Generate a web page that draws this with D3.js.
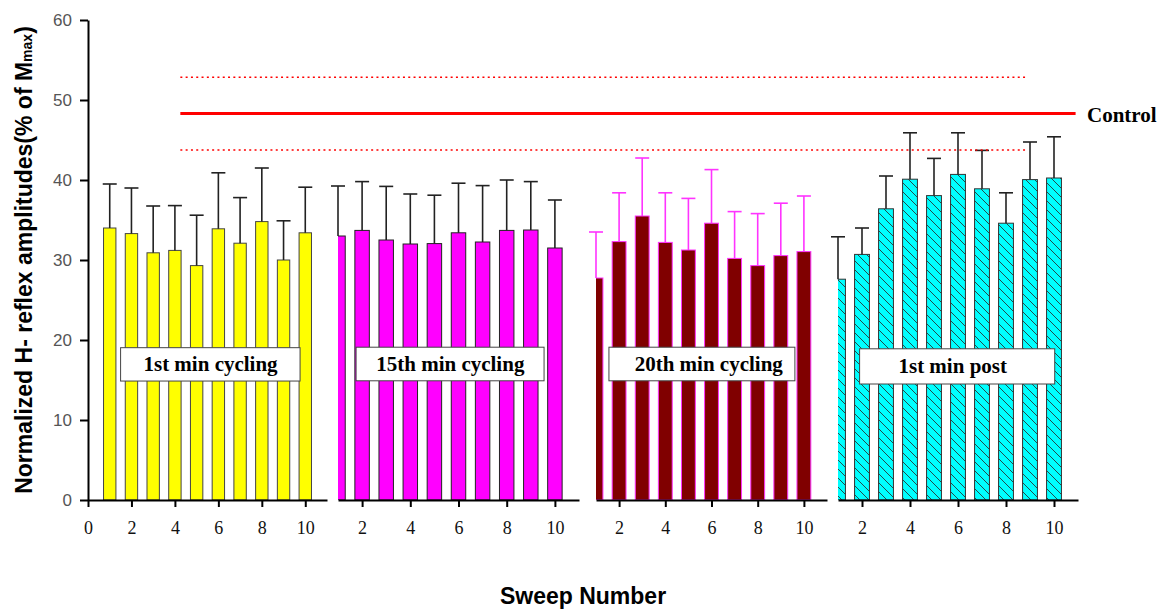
<!DOCTYPE html>
<html>
<meta charset="utf-8">
<style>
body{margin:0;background:#fff;}
.yaxis text{font-family:"Liberation Sans",Arial,sans-serif;font-size:17px;fill:#555;}
.xaxis text{font-family:"Liberation Serif","Times New Roman",serif;font-size:18px;fill:#111;}
.domain,.tick line{stroke:#000;stroke-width:2px;}
.box rect{fill:#fff;stroke:#444;stroke-width:1px;}
.box text{font-family:"Liberation Serif","Times New Roman",serif;font-weight:bold;font-size:21px;fill:#000;}
.title{font-family:"Liberation Sans",Arial,sans-serif;font-weight:bold;font-size:23px;fill:#000;}
</style>
<body>
<script src="https://d3js.org/d3.v7.min.js"></script>
<script>

// sweep numbers and group means / SD (% of Mmax)
var sweeps=[1,2,3,4,5,6,7,8,9,10];
var cyc1Mean=[34.0,33.3,30.9,31.2,29.3,33.9,32.1,34.8,30.0,33.4];
var cyc1Sd=[5.5,5.7,5.85,5.6,6.3,7.0,5.7,6.7,4.9,5.7];
var cyc15Mean=[33.0,33.7,32.5,32.0,32.05,33.4,32.25,33.7,33.75,31.5];
var cyc15Sd=[6.25,6.1,6.7,6.25,6.05,6.2,7.05,6.3,6.05,6.0];
var cyc20Mean=[27.75,32.3,35.5,32.2,31.25,34.6,30.2,29.3,30.55,31.05];
var cyc20Sd=[5.75,6.1,7.25,6.2,6.45,6.7,5.85,6.5,6.55,6.95];
var postMean=[27.6,30.7,36.4,40.1,38.05,40.7,38.9,34.6,40.05,40.25];
var postSd=[5.3,3.3,4.1,5.8,4.65,5.2,4.8,3.8,4.7,5.15];
var groupNames=["1st min cycling","15th min cycling","20th min cycling","1st min post"];
var controlMean=48.3, controlSd=4.55;
var yTicks=[0,10,20,30,40,50,60];

var means=[cyc1Mean,cyc15Mean,cyc20Mean,postMean];
var sds=[cyc1Sd,cyc15Sd,cyc20Sd,postSd];

// panel layout
var panels=[
  {d0:0,d1:11,left:88, right:327, bw:0.57,ticks:[0,2,4,6,8,10],fill:"#ffff00",stroke:"#444",err:"#222",
   box:{x0:1.5,x1:9.76,tx:5.64,top:19.04,bot:14.87}},
  {d0:1,d1:11,left:338,right:579,bw:0.6,ticks:[2,4,6,8,10],fill:"#ff00ff",stroke:"#222",err:"#222",
   box:{x0:1.75,x1:9.55,tx:5.66,top:19.1,bot:14.9}},
  {d0:1,d1:11,left:596,right:827,bw:0.6,ticks:[2,4,6,8,10],fill:"#800000",stroke:"#ff33ff",err:"#ff33ff",
   box:{x0:1.56,x1:9.61,tx:5.88,top:19.1,bot:14.9}},
  {d0:1,d1:11,left:838,right:1078,bw:0.62,ticks:[2,4,6,8,10],fill:"url(#hatch)",stroke:"#333",err:"#222",
   box:{x0:1.9,x1:10.03,tx:5.78,top:18.9,bot:14.5}}
];

var svg=d3.select("body").append("svg").attr("width",1159).attr("height",611);
var defs=svg.append("defs");
var pat=defs.append("pattern").attr("id","hatch").attr("patternUnits","userSpaceOnUse")
  .attr("width",9).attr("height",9);
pat.append("rect").attr("width",9).attr("height",9).attr("fill","#00ffff");
pat.append("path").attr("d","M0,0L9,9M-1,8L1,10M8,-1L10,1")
  .attr("stroke","#224c4c").attr("stroke-width",1);

var y=d3.scaleLinear().domain([0,60]).range([500,20]);

panels.forEach(function(p,i){
  var x=d3.scaleLinear().domain([p.d0,p.d1]).range([p.left,p.right]);
  p.x=x;
  defs.append("clipPath").attr("id","clip"+i).append("rect")
    .attr("x",p.left).attr("y",0).attr("width",p.right-p.left).attr("height",500);
  var rows=sweeps.map(function(s,k){return {s:s,m:means[i][k],sd:sds[i][k]};});
  var g=svg.append("g");
  g.append("g").attr("clip-path","url(#clip"+i+")").selectAll("rect").data(rows).enter().append("rect")
    .attr("x",d=>x(d.s-p.bw/2)).attr("width",x(p.bw)-x(0))
    .attr("y",d=>y(d.m)).attr("height",d=>y(0)-y(d.m))
    .attr("fill",p.fill).attr("stroke",p.stroke).attr("stroke-width",1);
  var e=g.append("g").attr("stroke",p.err).attr("stroke-width",1.6);
  e.selectAll(".v").data(rows).enter().append("line")
    .attr("x1",d=>x(d.s)).attr("x2",d=>x(d.s))
    .attr("y1",d=>y(d.m)).attr("y2",d=>y(d.m+d.sd));
  e.selectAll(".c").data(rows).enter().append("line")
    .attr("x1",d=>x(d.s)-7).attr("x2",d=>x(d.s)+7)
    .attr("y1",d=>y(d.m+d.sd)).attr("y2",d=>y(d.m+d.sd));
  svg.append("g").attr("class","xaxis").attr("transform","translate(0,500)")
    .call(d3.axisBottom(x).tickValues(p.ticks).tickSize(7).tickSizeOuter(0).tickPadding(14));
});

svg.append("g").attr("class","yaxis").attr("transform","translate(88,0)")
  .call(d3.axisLeft(y).tickValues(yTicks).tickSize(8).tickSizeOuter(0).tickPadding(8));

// control line with +/- SD
var cx0=panels[0].x(4.25), cxDot=panels[3].x(8.9), cxEnd=panels[3].x(10.9);
svg.append("line").attr("x1",cx0).attr("x2",cxEnd).attr("y1",y(controlMean)).attr("y2",y(controlMean))
  .attr("stroke","#ff0000").attr("stroke-width",3);
[controlMean+controlSd,controlMean-controlSd].forEach(function(v){
  svg.append("line").attr("x1",cx0).attr("x2",cxDot).attr("y1",y(v)).attr("y2",y(v))
    .attr("stroke","#ff0000").attr("stroke-width",1.6).attr("stroke-dasharray","2,3.3");
});
svg.append("text").attr("class","box").attr("x",1087).attr("y",y(controlMean)+8.5)
  .style("font-family","'Liberation Serif',serif").style("font-weight","bold").style("font-size","21px")
  .text("Control");

// group label boxes
panels.forEach(function(p,i){
  var b=p.box, g=svg.append("g").attr("class","box");
  g.append("rect").attr("x",p.x(b.x0)).attr("width",p.x(b.x1)-p.x(b.x0))
    .attr("y",y(b.top)).attr("height",y(b.bot)-y(b.top));
  g.append("text").attr("x",p.x(b.tx)).attr("y",(y(b.top)+y(b.bot))/2+7)
    .attr("text-anchor","middle").text(groupNames[i]);
});

// axis titles
svg.append("text").attr("class","title").attr("x",583).attr("y",604)
  .attr("text-anchor","middle").text("Sweep Number");
var yt=svg.append("text").attr("class","title").attr("text-anchor","middle")
  .attr("transform","translate(31.5,260) rotate(-90)");
yt.append("tspan").text("Normalized H- reflex amplitudes(% of M");
yt.append("tspan").style("font-size","14px").text("max");
yt.append("tspan").text(")");
</script>
</body>
</html>
